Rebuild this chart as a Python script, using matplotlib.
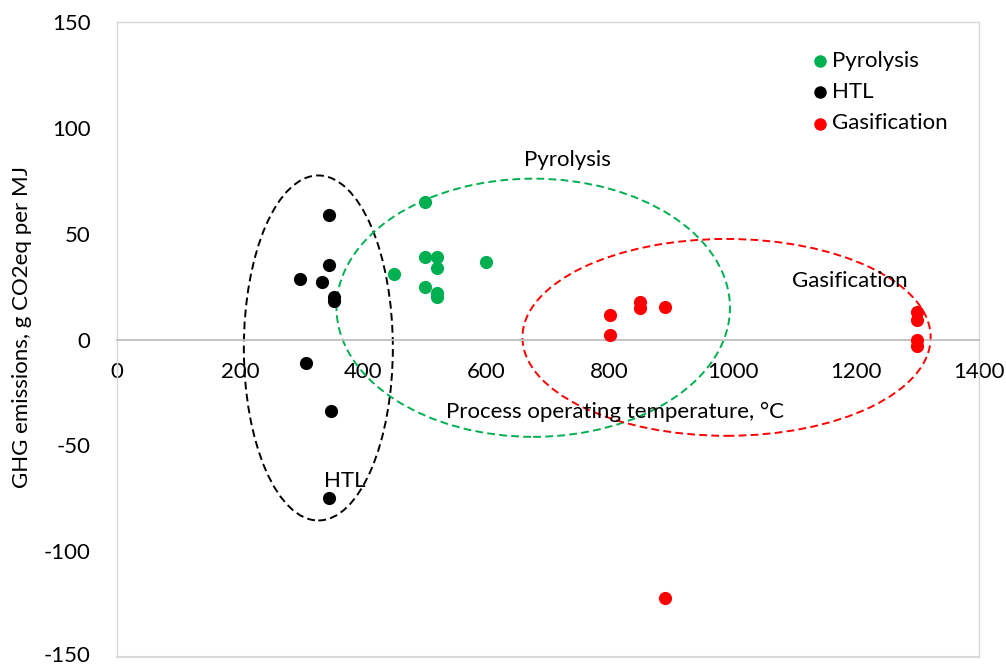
import matplotlib
matplotlib.use("Agg")
import matplotlib.pyplot as plt
import matplotlib.transforms as mtransforms
from matplotlib.patches import Ellipse

plt.rcParams['font.family'] = ['Lato', 'DejaVu Sans']
plt.rcParams['axes.unicode_minus'] = False

# Process operating temperature (°C) and GHG emissions (g CO2eq/MJ)
pyrolysis_temp = [500, 500, 520, 520, 450, 600, 500, 520, 520]
pyrolysis_ghg = [65, 39, 39, 34, 31, 36.5, 25, 22, 20]

htl_temp = [345, 345, 298, 333, 353, 353, 307, 348, 345]
htl_ghg = [59, 35, 28.5, 27, 20, 18, -11, -34, -75]

gasif_temp = [800, 800, 850, 850, 890, 1300, 1300, 1300, 1300, 890]
gasif_ghg = [11.5, 2, 17.5, 15, 15.5, 13, 9, 0, -3, -122]

# Group outlines: (centre x, centre y, width, height)
groups = ["HTL", "Pyrolysis", "Gasification"]
group_ellipses = [(327, -4, 242, 163), (676, 15, 639, 122), (990, 1, 663, 93)]
group_label_pos = [(370, -67), (731, 85), (1190, 27.5)]

x_ticks = [0, 200, 400, 600, 800, 1000, 1200, 1400]
y_ticks = [-150, -100, -50, 0, 50, 100, 150]

green = "#00b050"
red = "#ff0000"
colors = {"Pyrolysis": green, "HTL": "black", "Gasification": red}

fig = plt.figure(figsize=(10.06, 6.66), dpi=100)
ax = fig.add_axes([117 / 1006, 9 / 666, 862 / 1006, 635 / 666])
ax.set_xlim(0, 1400)
ax.set_ylim(-150, 150)

# Frame around the plot area and the horizontal axis at zero
for side in ["left", "right", "top"]:
    ax.spines[side].set_color("#d9d9d9")
    ax.spines[side].set_linewidth(1.0)
ax.spines["bottom"].set_position(("data", 0))
ax.spines["bottom"].set_color("#bfbfbf")
ax.spines["bottom"].set_linewidth(1.3)
ax.plot([0, 1], [0, 0], transform=ax.transAxes, color="#d9d9d9", lw=1.5, clip_on=False)

ax.set_xticks(x_ticks)
ax.set_yticks(y_ticks)
ax.tick_params(axis="x", length=0, pad=16, labelsize=16)
ax.tick_params(axis="y", length=0, pad=19, labelsize=16)
# keep the lowest label inside the figure edge
lift = mtransforms.ScaledTranslation(0, 3 / 100, fig.dpi_scale_trans)
for lbl in ax.get_yticklabels():
    if lbl.get_text() == "-150":
        lbl.set_transform(lbl.get_transform() + lift)

for (cx, cy, w, h), name in zip(group_ellipses, groups):
    ax.add_patch(Ellipse((cx, cy), w, h, fill=False, edgecolor=colors[name],
                         lw=1.4, linestyle=(0, (4, 2.2)), zorder=2))

ax.scatter(pyrolysis_temp, pyrolysis_ghg, s=90, color=green, label="Pyrolysis", zorder=3, linewidths=0)
ax.scatter(htl_temp, htl_ghg, s=90, color="black", label="HTL", zorder=3, linewidths=0)
ax.scatter(gasif_temp, gasif_ghg, s=90, color=red, label="Gasification", zorder=3, linewidths=0)

for (lx, ly), name in zip(group_label_pos, groups):
    ax.text(lx, ly, name, fontsize=16, ha="center", va="center", zorder=4)

ax.text(809, -34, "Process operating temperature, °C", fontsize=16,
        ha="center", va="center", zorder=4)
fig.text(22 / 1006, 0.5 + (339 - 333) / 666, "GHG emissions, g CO2eq per MJ", rotation=90,
         fontsize=16, ha="center", va="center")

leg = ax.legend(loc="upper left", bbox_to_anchor=(0.787, 0.975), frameon=False,
                fontsize=16, handletextpad=0.05, labelspacing=0.5, markerscale=0.95,
                handlelength=1.0, borderaxespad=0.2)

fig.savefig("out.png", dpi=100, facecolor="white")
